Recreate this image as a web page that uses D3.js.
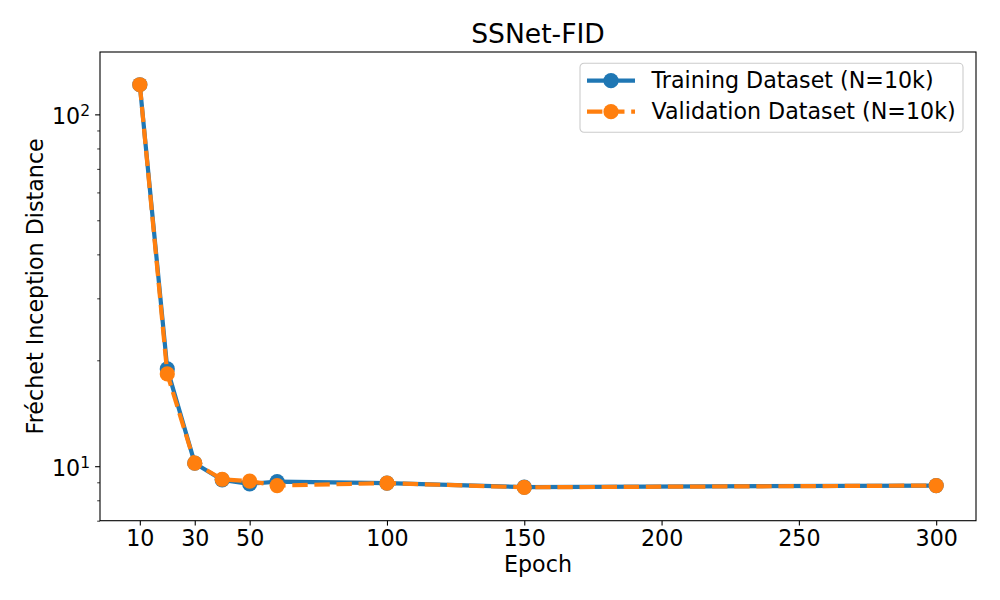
<!DOCTYPE html>
<html>
<head>
<meta charset="utf-8">
<script src="https://cdn.jsdelivr.net/npm/d3@7"></script>
<style>
  body { margin: 0; background: #fff; }
  text { font-family: "DejaVu Sans", sans-serif; fill: #000; }
</style>
</head>
<body>
<div id="chart"></div>
<script>
// Chart data
const epochs = [10, 20, 30, 40, 50, 60, 100, 150, 300];
const trainingFID = [121.4, 18.9, 10.2, 9.14, 8.91, 9.04, 8.95, 8.72, 8.81];
const validationFID = [121.4, 18.29, 10.2, 9.18, 9.07, 8.81, 8.95, 8.71, 8.81];
const xTicks = [10, 30, 50, 100, 150, 200, 250, 300];
const yMajorTicks = [10, 100];
const seriesNames = ["Training Dataset (N=10k)", "Validation Dataset (N=10k)"];

const svgWidth = 1000;
const svgHeight = 600;
const margin = { top: 52, right: 24, bottom: 79.3, left: 100 };
const width = svgWidth - margin.left - margin.right;
const height = svgHeight - margin.top - margin.bottom;
const fontSize = "22.2px";

const svg = d3.select("#chart")
    .append("svg")
    .attr("width", svgWidth)
    .attr("height", svgHeight);

const chart = svg.append("g")
    .attr("transform", `translate(${margin.left},${margin.top})`);

// Scales
const x = d3.scaleLinear()
    .domain([-4.5, 314.5])
    .range([0, width]);

const y = d3.scaleLog()
    .domain([7.0, 150.4])
    .range([height, 0]);

// X axis
const xAxis = chart.append("g")
    .attr("transform", `translate(0,${height})`)
    .call(d3.axisBottom(x).tickValues(xTicks).tickSize(4.9).tickPadding(4.9).tickFormat(d => d));
xAxis.select(".domain").remove();
xAxis.selectAll("line").attr("stroke", "#000").attr("stroke-width", 1.1);
xAxis.selectAll("text").style("font-size", fontSize).attr("fill", "#000");

// Y axis: minor ticks, then major ticks with 10^n labels
const yMinor = [];
for (let p = 0; p <= 2; p++) {
    for (let m = 2; m <= 9; m++) {
        const v = m * Math.pow(10, p);
        if (v >= y.domain()[0] && v <= y.domain()[1]) yMinor.push(v);
    }
}
const yAxisMinor = chart.append("g")
    .call(d3.axisLeft(y).tickValues(yMinor).tickSize(2.8).tickFormat(""));
yAxisMinor.select(".domain").remove();
yAxisMinor.selectAll("line").attr("stroke", "#000").attr("stroke-width", 0.8);

const yAxis = chart.append("g")
    .call(d3.axisLeft(y).tickValues(yMajorTicks).tickSize(4.9).tickFormat(""));
yAxis.select(".domain").remove();
yAxis.selectAll("line").attr("stroke", "#000").attr("stroke-width", 1.1);
yAxis.selectAll(".tick").each(function (d) {
    const t = d3.select(this).append("text")
        .attr("x", -10)
        .attr("dy", "0.42em")
        .attr("text-anchor", "end")
        .style("font-size", fontSize);
    t.append("tspan").text("10");
    t.append("tspan")
        .attr("dy", "-0.5em")
        .style("font-size", "15.5px")
        .text(Math.round(Math.log10(d)));
});

// Lines and markers
const line = d3.line()
    .x(d => x(d[0]))
    .y(d => y(d[1]));

const series = [
    { name: seriesNames[0], values: d3.zip(epochs, trainingFID), color: "#1f77b4", dash: null },
    { name: seriesNames[1], values: d3.zip(epochs, validationFID), color: "#ff7f0e", dash: "15.4,6.7" }
];

series.forEach(s => {
    chart.append("path")
        .datum(s.values)
        .attr("fill", "none")
        .attr("stroke", s.color)
        .attr("stroke-width", 4.2)
        .attr("stroke-linejoin", "round")
        .attr("stroke-dasharray", s.dash)
        .attr("d", line);

    chart.selectAll(null)
        .data(s.values)
        .enter()
        .append("circle")
        .attr("cx", d => x(d[0]))
        .attr("cy", d => y(d[1]))
        .attr("r", 7.6)
        .attr("fill", s.color);
});

// Frame
chart.append("rect")
    .attr("width", width)
    .attr("height", height)
    .attr("fill", "none")
    .attr("stroke", "#000")
    .attr("stroke-width", 1.1);

// Title and axis labels
svg.append("text")
    .attr("x", margin.left + width / 2)
    .attr("y", 43.3)
    .attr("text-anchor", "middle")
    .style("font-size", "26.6px")
    .text("SSNet-FID");

svg.append("text")
    .attr("x", margin.left + width / 2)
    .attr("y", 572)
    .attr("text-anchor", "middle")
    .style("font-size", fontSize)
    .text("Epoch");

svg.append("text")
    .attr("transform", `translate(43,${margin.top + height / 2}) rotate(-90)`)
    .attr("text-anchor", "middle")
    .style("font-size", fontSize)
    .text("Fréchet Inception Distance");

// Legend
const legend = svg.append("g").attr("transform", "translate(580,63.3)");
legend.append("rect")
    .attr("width", 383)
    .attr("height", 69)
    .attr("rx", 4)
    .attr("fill", "#fff")
    .attr("fill-opacity", 0.8)
    .attr("stroke", "#ccc")
    .attr("stroke-width", 1.1);

series.forEach((s, i) => {
    const row = legend.append("g").attr("transform", `translate(0,${17.4 + i * 31})`);
    row.append("line")
        .attr("x1", 7).attr("x2", 55)
        .attr("stroke", s.color)
        .attr("stroke-width", 4.2)
        .attr("stroke-dasharray", s.dash);
    row.append("circle")
        .attr("cx", 31)
        .attr("r", 7.6)
        .attr("fill", s.color);
    row.append("text")
        .attr("x", 71.5)
        .attr("dy", "0.35em")
        .style("font-size", fontSize)
        .text(s.name);
});
</script>
</body>
</html>
